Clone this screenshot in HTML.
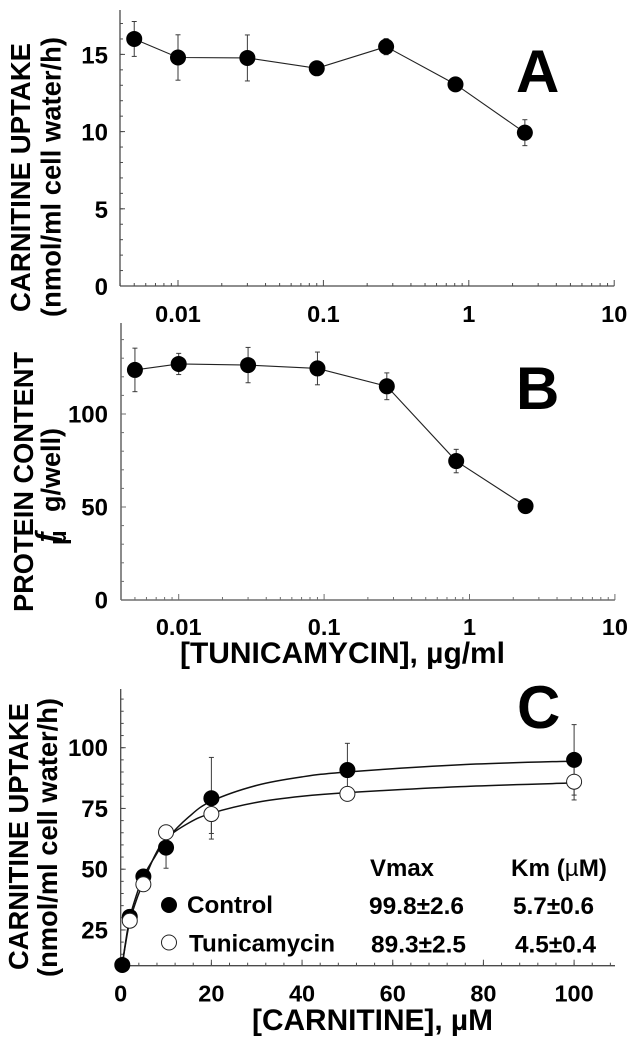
<!DOCTYPE html>
<html lang="en">
<head>
<meta charset="utf-8">
<title>Carnitine uptake and protein content</title>
<style>
html,body{margin:0;padding:0;background:#fff;width:635px;height:1050px;overflow:hidden}
svg{display:block;filter:blur(.35px)}
text{font-family:"Liberation Sans",Arial,sans-serif;font-weight:700;fill:#000}
</style>
</head>
<body>
<svg id="figure" width="635" height="1050" viewBox="0 0 635 1050" xmlns="http://www.w3.org/2000/svg">
<rect x="0" y="0" width="635" height="1050" fill="#fff"/>

<text x="516" y="92" font-size="60">A</text>
<text x="516" y="409" font-size="60">B</text>
<text x="517" y="728" font-size="60">C</text>

<text transform="translate(30,312) rotate(-90)" font-size="27.5" textLength="269" lengthAdjust="spacingAndGlyphs">CARNITINE UPTAKE</text>
<text transform="translate(60.5,317) rotate(-90)" font-size="27.4" textLength="280" lengthAdjust="spacingAndGlyphs">(nmol/ml cell water/h)</text>

<text transform="translate(33,612) rotate(-90)" font-size="27.5" textLength="260" lengthAdjust="spacingAndGlyphs">PROTEIN CONTENT</text>
<text transform="translate(60,512) rotate(-90)" font-size="27" textLength="84" lengthAdjust="spacingAndGlyphs">g/well)</text>
<text transform="translate(56,545) rotate(-90)" font-size="30">ƒ</text>
<text transform="translate(66,545) rotate(-90)" font-size="24">μ</text>
<text x="180" y="663" font-size="30" textLength="325" lengthAdjust="spacingAndGlyphs">[TUNICAMYCIN], µg/ml</text>

<text transform="translate(28,970) rotate(-90)" font-size="27.5" textLength="267" lengthAdjust="spacingAndGlyphs">CARNITINE UPTAKE</text>
<text transform="translate(57,977) rotate(-90)" font-size="27.4" textLength="279" lengthAdjust="spacingAndGlyphs">(nmol/ml cell water/h)</text>
<text x="252" y="1030" font-size="30" textLength="241" lengthAdjust="spacingAndGlyphs">[CARNITINE], µM</text>

<g font-size="24">
<text x="370" y="876" textLength="64" lengthAdjust="spacingAndGlyphs">Vmax</text>
<text x="511" y="876" textLength="96" lengthAdjust="spacingAndGlyphs">Km (<tspan font-weight="400">µ</tspan>M)</text>
<text x="369" y="914" textLength="95" lengthAdjust="spacingAndGlyphs">99.8±2.6</text>
<text x="513" y="914" textLength="81" lengthAdjust="spacingAndGlyphs">5.7±0.6</text>
<text x="371" y="952.5" textLength="95" lengthAdjust="spacingAndGlyphs">89.3±2.5</text>
<text x="515" y="952.5" textLength="81" lengthAdjust="spacingAndGlyphs">4.5±0.4</text>
</g>

<g>
<circle cx="169" cy="905" r="8" fill="#000"/>
<text x="187" y="913" font-size="24" textLength="86" lengthAdjust="spacingAndGlyphs">Control</text>
<circle cx="169" cy="942.5" r="7.5" fill="#fff" stroke="#222" stroke-width="1"/>
<text x="189" y="951.5" font-size="24" textLength="146" lengthAdjust="spacingAndGlyphs">Tunicamycin</text>
</g>
</svg>

<script>
// Panel A: carnitine uptake vs tunicamycin
const doses = [0.005, 0.01, 0.03, 0.09, 0.27, 0.81, 2.43];
const uptakeValues = [16.0, 14.8, 14.77, 14.1, 15.5, 13.06, 9.93];
const uptakeErrors = [1.13, 1.47, 1.49, 0.45, 0.52, 0.2, 0.84];
const uptakeTicks = [0, 5, 10, 15];
// Panel B: protein content vs tunicamycin
const proteinValues = [123.7, 126.9, 126.3, 124.5, 114.9, 74.7, 50.5];
const proteinErrors = [11.7, 5.7, 9.5, 8.8, 7.2, 6.3, 0];
const proteinTicks = [0, 50, 100];
const logTickLabels = ["0.01", "0.1", "1", "10"];
const logTickValues = [0.01, 0.1, 1, 10];
// Panel C: carnitine saturation
const carnitine = [0.35, 2, 5, 10, 20, 50, 100];
const controlValues = [10.6, 30.4, 47, 58.9, 79.2, 90.8, 95];
const controlErrors = [0, 0, 0, 8.5, 16.8, 11, 14.5];
const tunicamycinValues = [10.6, 28.8, 43.8, 65.2, 72.7, 81, 86];
const tunicamycinErrors = [0, 0, 0, 0, 8, 0, 7.5];
const curveCarnitine = [0.35, 1, 2, 3.5, 5, 7.5, 10, 15, 20, 30, 40, 50, 75, 100];
const controlCurve = [10.6, 19, 30, 39.5, 47, 55, 62, 71.5, 78, 84.5, 88, 90, 93, 94.5];
const tunicamycinCurve = [10.6, 18.5, 28.5, 37.5, 44.5, 55.5, 62.5, 69, 73, 77.5, 80, 81.5, 84, 85.5];
const carnitineTicks = ["0", "20", "40", "60", "80", "100"];
const kineticTicks = ["25", "50", "75", "100"];

const NS = "http://www.w3.org/2000/svg";
const svg = document.getElementById("figure");

function make(tag, attrs, parent) {
  const node = document.createElementNS(NS, tag);
  for (const key in attrs) node.setAttribute(key, attrs[key]);
  (parent || svg).appendChild(node);
  return node;
}

function logScale(x0) {
  return v => x0 + 145.4 * (Math.log10(v) + 2);
}
function linearScale(y0, pxPerUnit) {
  return v => y0 - v * pxPerUnit;
}

const xA = logScale(178);
const yA = linearScale(286, 15.44);
const xB = logScale(178.7);
const yB = linearScale(600, 1.86);
const xC = v => 120.7 + v * 4.534;
const yC = v => 747.7 + (100 - v) * 2.43;

const AXIS = "#4a4a4a";
const LINE = "#222";
const ERR = "#3a3a3a";

function segment(group, x1, y1, x2, y2, color, width) {
  return make("line", { x1: x1, y1: y1, x2: x2, y2: y2, stroke: color, "stroke-width": width }, group);
}

function drawLogAxis(panel, x, axisLeft, baseline, top, labelBaseline, color, width) {
  const axes = make("g", {});
  
  
  const xLine = segment(axes, axisLeft, baseline, x(10), baseline, color, width);
  
  
  const yLine = segment(axes, axisLeft, top, axisLeft, baseline, color, width);
  
  
  [0.001, 0.01, 0.1, 1].forEach(decade => {
    for (let m = 2; m <= 9; m++) {
      const v = decade * m;
      if (x(v) <= axisLeft) continue;
      const minor = segment(axes, x(v), baseline, x(v), baseline - 3, color, 1);
      
      
    }
  });
  logTickValues.forEach((v, i) => {
    const tick = segment(axes, x(v), baseline, x(v), baseline - 6, color, 1);
    
    
    const label = make("text", { x: x(v), y: labelBaseline, "font-size": 23.5, "text-anchor": "middle" }, axes);
    label.textContent = logTickLabels[i];
    
    
  });
  return axes;
}

function drawYTicks(axes, panel, axisLeft, y, from, to, step, majors, labels, offset, color) {
  for (let v = from; v <= to + 1e-6; v += step) {
    const tick = segment(axes, axisLeft, y(v), axisLeft + 3, y(v), color, 1);
    
    
  }
  majors.forEach((v, i) => {
    const tick = segment(axes, axisLeft, y(v), axisLeft + 5, y(v), color, 1);
    
    
    const label = make("text", { x: 108, y: y(v) + offset, "font-size": 24, "text-anchor": "end" }, axes);
    label.textContent = labels[i];
    
    
  });
}

function drawErrorBar(group, name, px, yTop, yBottom) {
  const stem = segment(group, px, yTop, px, yBottom, ERR, 1);
  
  
  const capTop = segment(group, px - 2.5, yTop, px + 2.5, yTop, ERR, 1);
  
  
  const capBottom = segment(group, px - 2.5, yBottom, px + 2.5, yBottom, ERR, 1);
  
  
}

function drawDoseSeries(panel, x, y, values, errors) {
  const series = make("g", {});
  
  
  const pts = doses.map((d, i) => x(d) + "," + y(values[i])).join(" ");
  const line = make("polyline", { points: pts, fill: "none", stroke: LINE, "stroke-width": 1.1 }, series);
  
  
  doses.forEach((d, i) => {
    if (errors[i] > 0) drawErrorBar(series, panel, x(d), y(values[i] + errors[i]), y(values[i] - errors[i]));
  });
  doses.forEach((d, i) => {
    const dot = make("circle", { cx: x(d), cy: y(values[i]), r: 8, fill: "#000" }, series);
    
    
  });
}

function smoothPath(points) {
  let d = "M" + points[0][0] + "," + points[0][1];
  for (let i = 0; i < points.length - 1; i++) {
    const p0 = points[Math.max(i - 1, 0)];
    const p1 = points[i];
    const p2 = points[i + 1];
    const p3 = points[Math.min(i + 2, points.length - 1)];
    const c1x = p1[0] + (p2[0] - p0[0]) / 6;
    const c1y = p1[1] + (p2[1] - p0[1]) / 6;
    const c2x = p2[0] - (p3[0] - p1[0]) / 6;
    const c2y = p2[1] - (p3[1] - p1[1]) / 6;
    d += " C" + c1x + "," + c1y + " " + c2x + "," + c2y + " " + p2[0] + "," + p2[1];
  }
  return d;
}

// Panel A
const axesA = drawLogAxis("a", xA, 120, 286, 10, 322, AXIS, 1.3);
drawYTicks(axesA, "a", 120, yA, 0, 17, 1, uptakeTicks, uptakeTicks.map(String), 9, AXIS);
drawDoseSeries("a", xA, yA, uptakeValues, uptakeErrors);

// Panel B
const axesB = drawLogAxis("b", xB, 121, 600, 323, 635, "#6e6e6e", 1.6);
drawYTicks(axesB, "b", 121, yB, 0, 140, 10, proteinTicks, proteinTicks.map(String), 8.5, "#6e6e6e");
drawDoseSeries("b", xB, yB, proteinValues, proteinErrors);

// Panel C axes
const axesC = make("g", {});


const baselineC = 965.7;
const cXLine = segment(axesC, 120.7, baselineC, 615, baselineC, AXIS, 1.3);


const cYLine = segment(axesC, 120.7, 689, 120.7, baselineC, AXIS, 1.3);


for (let v = 4; v <= 108; v += 4) {
  const minor = segment(axesC, xC(v), baselineC, xC(v), baselineC - 3, AXIS, 1);
  
  
}
carnitineTicks.forEach(t => {
  const v = Number(t);
  const tick = segment(axesC, xC(v), baselineC, xC(v), baselineC - 6, AXIS, 1);
  
  
  const label = make("text", { x: xC(v), y: 1001.5, "font-size": 23.5, "text-anchor": "middle" }, axesC);
  label.textContent = t;
  
  
});
drawYTicks(axesC, "c", 120.7, yC, 15, 120, 5, kineticTicks.map(Number), kineticTicks, 8.5, AXIS);

// Panel C series
const seriesC = make("g", {});


const controlFit = make("path", { d: smoothPath(curveCarnitine.map((c, i) => [xC(c), yC(controlCurve[i])])), fill: "none", stroke: "#111", "stroke-width": 1.5 }, seriesC);


const tunicamycinFit = make("path", { d: smoothPath(curveCarnitine.map((c, i) => [xC(c), yC(tunicamycinCurve[i])])), fill: "none", stroke: "#111", "stroke-width": 1.5 }, seriesC);


carnitine.forEach((c, i) => {
  if (controlErrors[i] > 0) drawErrorBar(seriesC, "control", xC(c), yC(controlValues[i] + controlErrors[i]), yC(controlValues[i] - controlErrors[i]));
  if (tunicamycinErrors[i] > 0) drawErrorBar(seriesC, "tunicamycin", xC(c), yC(tunicamycinValues[i] + tunicamycinErrors[i]), yC(tunicamycinValues[i] - tunicamycinErrors[i]));
});
carnitine.forEach((c, i) => {
  const dot = make("circle", { cx: xC(c), cy: yC(controlValues[i]), r: 8, fill: "#000" }, seriesC);
  
  
});
carnitine.forEach((c, i) => {
  if (i === 0) return;
  const dot = make("circle", { cx: xC(c), cy: yC(tunicamycinValues[i]), r: 7.5, fill: "#fff", stroke: "#222", "stroke-width": 1 }, seriesC);
  
  
});
</script>
</body>
</html>
